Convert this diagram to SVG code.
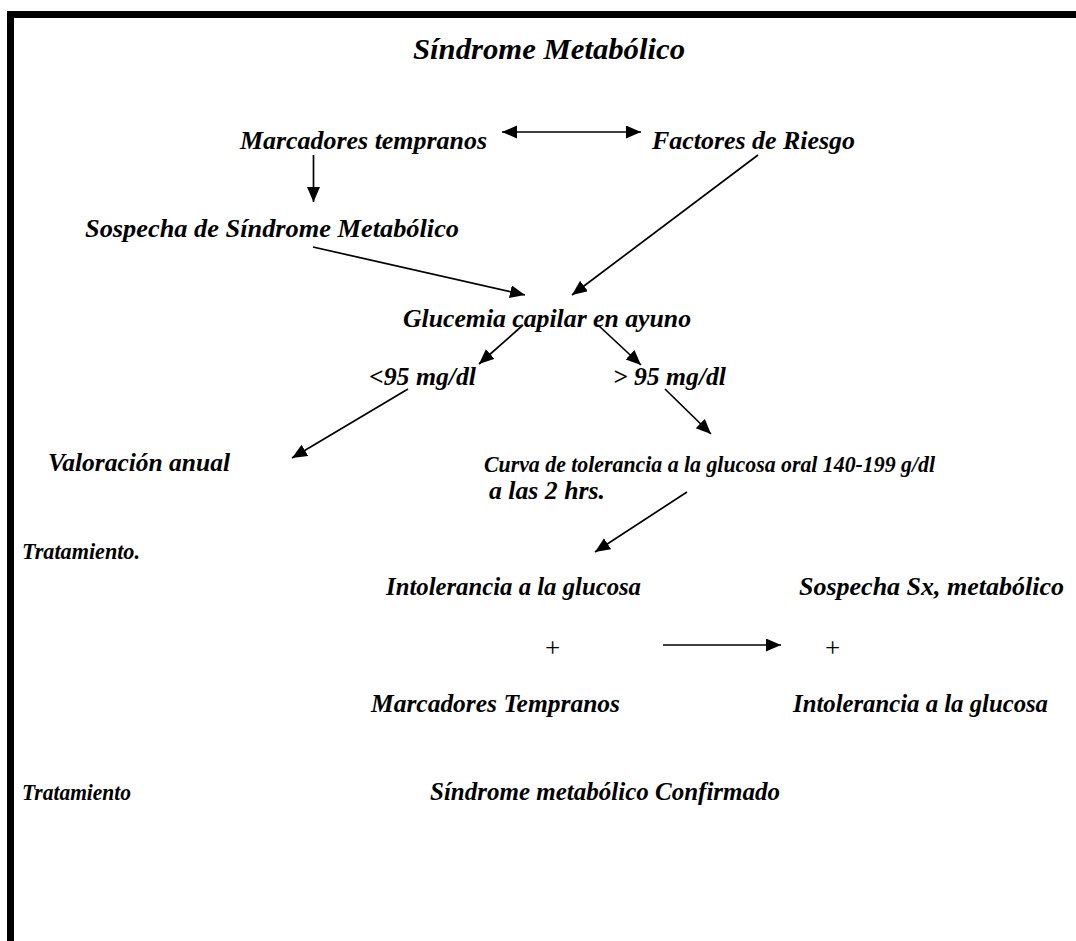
<svg xmlns="http://www.w3.org/2000/svg" width="1076" height="941" viewBox="0 0 1076 941">
<defs>
<style>
.t{font-family:"Liberation Serif","Times New Roman",serif;font-weight:bold;font-style:italic;font-size:25px;fill:#000}
.ti{font-size:29px}
.s{font-size:23.5px}
.p{font-family:"Liberation Serif","Times New Roman",serif;font-size:27px;fill:#000}
.c line{stroke:#000;stroke-width:1.7;marker-end:url(#ah)}
</style>
<marker id="ah" markerUnits="userSpaceOnUse" markerWidth="16" markerHeight="14" refX="15" refY="6.5" orient="auto-start-reverse" viewBox="0 0 16 14">
<path d="M0,0 L15,6.5 L0,13 z" fill="#000"/>
</marker>
</defs>
<rect width="1076" height="941" fill="#fff"/>
<g id="border">
<rect x="7" y="11" width="1069" height="7" fill="#000"/>
<rect x="7" y="11" width="7" height="930" fill="#000"/>
</g>
<g id="title"><text class="t ti" x="413" y="59" textLength="272" lengthAdjust="spacingAndGlyphs">Síndrome Metabólico</text></g>
<g id="marcadores"><text class="t" x="240" y="149" textLength="247" lengthAdjust="spacingAndGlyphs">Marcadores tempranos</text></g>
<g id="factores"><text class="t" x="652" y="149" textLength="203" lengthAdjust="spacingAndGlyphs">Factores de Riesgo</text></g>
<g id="sospecha"><text class="t" x="85" y="237" textLength="374" lengthAdjust="spacingAndGlyphs">Sospecha de Síndrome Metabólico</text></g>
<g id="glucemia"><text class="t" x="403" y="327" textLength="288" lengthAdjust="spacingAndGlyphs">Glucemia capilar en ayuno</text></g>
<g id="menor95"><text class="t" x="369" y="385" textLength="107" lengthAdjust="spacingAndGlyphs">&lt;95 mg/dl</text></g>
<g id="mayor95"><text class="t" x="613" y="385" textLength="113" lengthAdjust="spacingAndGlyphs">&gt; 95 mg/dl</text></g>
<g id="valoracion"><text class="t" x="48" y="471" textLength="182" lengthAdjust="spacingAndGlyphs">Valoración anual</text></g>
<g id="curva">
<text class="t s" x="484" y="472" textLength="451" lengthAdjust="spacingAndGlyphs">Curva de tolerancia a la glucosa oral 140-199 g/dl</text>
<text class="t" x="489" y="499" textLength="116" lengthAdjust="spacingAndGlyphs">a las 2 hrs.</text>
</g>
<g id="tratamiento1"><text class="t s" x="22" y="559" textLength="118" lengthAdjust="spacingAndGlyphs">Tratamiento.</text></g>
<g id="intolerancia1"><text class="t" x="386" y="595" textLength="255" lengthAdjust="spacingAndGlyphs">Intolerancia a la glucosa</text></g>
<g id="sospechaSx"><text class="t" x="799" y="595" textLength="265" lengthAdjust="spacingAndGlyphs">Sospecha Sx, metabólico</text></g>
<g id="plus1"><text class="p" x="545" y="657">+</text></g>
<g id="plus2"><text class="p" x="825" y="657">+</text></g>
<g id="marcadoresT"><text class="t" x="371" y="712" textLength="249" lengthAdjust="spacingAndGlyphs">Marcadores Tempranos</text></g>
<g id="intolerancia2"><text class="t" x="793" y="712" textLength="255" lengthAdjust="spacingAndGlyphs">Intolerancia a la glucosa</text></g>
<g id="tratamiento2"><text class="t s" x="22" y="800" textLength="109" lengthAdjust="spacingAndGlyphs">Tratamiento</text></g>
<g id="confirmado"><text class="t" x="430" y="800" textLength="350" lengthAdjust="spacingAndGlyphs">Síndrome metabólico Confirmado</text></g>
<g id="connectors" class="c">
<line x1="502" y1="132" x2="641" y2="132" style="marker-start:url(#ah)"/>
<line x1="313.5" y1="155" x2="313.5" y2="202"/>
<line x1="313" y1="247" x2="525" y2="295"/>
<line x1="758" y1="155" x2="572" y2="295"/>
<line x1="523" y1="325" x2="479" y2="364"/>
<line x1="598" y1="325" x2="641" y2="365"/>
<line x1="408" y1="389" x2="292" y2="458"/>
<line x1="665" y1="389" x2="711" y2="434"/>
<line x1="687" y1="492" x2="595" y2="552"/>
<line x1="663" y1="645" x2="781" y2="645"/>
</g>
</svg>
